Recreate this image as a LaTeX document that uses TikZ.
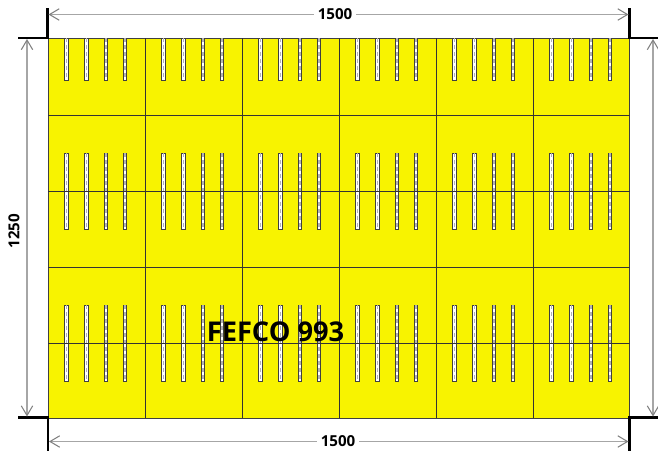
\documentclass[tikz,border=0pt]{standalone}
\usepackage{fontspec}
\setmainfont{Open Sans}
\usetikzlibrary{arrows.meta}
\definecolor{plateyellow}{RGB}{248,243,0}
\tikzset{
  plate/.style={fill=plateyellow, draw=black!75, line width=0.35pt},
  gridline/.style={draw=black!80, line width=0.4pt},
  slot/.style={fill=white, draw=black!75, line width=0.45pt},
  slotcore/.style={draw=black!30, line width=0.7pt, dash pattern=on 2pt off 2pt},
  corner/.style={draw=black, line width=1.25pt},
  dimline/.style={draw=black!35, line width=0.6pt, {Straight Barb[length=5.5pt,width=6.5pt,black!50]}-{Straight Barb[length=5.5pt,width=6.5pt,black!50]}},
  dimlabel/.style={fill=white, font=\bfseries\fontsize{8.6}{10}\selectfont, inner sep=2.4pt},
  platelabel/.style={font=\bfseries\fontsize{15.5}{18}\selectfont, inner sep=0pt}
}
\begin{document}
\begin{tikzpicture}[x=0.02cm, y=-0.02cm]
\useasboundingbox (0,0) rectangle (658,451);

% plate
\draw[plate] (48,38) rectangle (629.5,418);

% slots
\foreach \col in {48,145,242,339,436,533} {
  \foreach \off in {18.5,38.5,58,77} {
    \foreach \ya/\yb in {38/80,153/229,305/381} {
      \draw[slot] (\col+\off-1.8,\ya) rectangle (\col+\off+1.8,\yb);
      \draw[slotcore] (\col+\off,\ya) -- (\col+\off,\yb);
    }
  }
}

% grid
\foreach \x in {145,242,339,436,533} {
  \draw[gridline] (\x,38) -- (\x,418);
}
\foreach \y in {115,191,267,343} {
  \draw[gridline] (48,\y) -- (629.5,\y);
}

% corners
\draw[corner] (47.5,8) -- (47.5,38) -- (18,38);
\draw[corner] (629.5,8) -- (629.5,38) -- (658,38);
\draw[corner] (18,417.5) -- (48,417.5) -- (48,451);
\draw[corner] (658,417.5) -- (629.5,417.5) -- (629.5,451);

% dimensions
\coordinate (topl) at (48.5,14.5);
\coordinate (topr) at (628.5,14.5);
\coordinate (botl) at (49,441.5);
\coordinate (botr) at (628.5,441.5);
\coordinate (leftt) at (27,39);
\coordinate (leftb) at (27,416.5);
\coordinate (rightt) at (653,39);
\coordinate (rightb) at (653,416.5);

\draw[dimline] (topl) -- (topr);
\draw[dimline] (botl) -- (botr);
\draw[dimline] (leftt) -- (leftb);
\draw[dimline] (rightt) -- (rightb);

\node[dimlabel] (lbltop) at (335,14) {1500};
\node[dimlabel] (lblbot) at (338,441) {1500};
\node[dimlabel, rotate=90] (lblleft) at (14,231) {1250};

\node[platelabel] (lblplate) at (275.5,332) {FEFCO 993};

\end{tikzpicture}
\end{document}
